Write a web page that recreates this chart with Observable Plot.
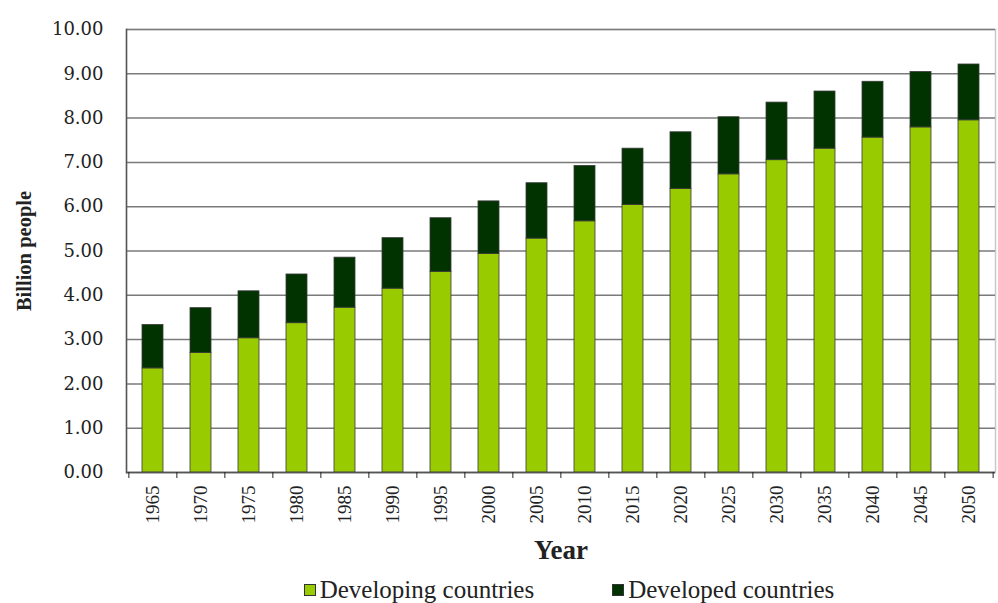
<!DOCTYPE html>
<html>
<head>
<meta charset="utf-8">
<script src="https://cdn.jsdelivr.net/npm/d3@7"></script>
<script src="https://cdn.jsdelivr.net/npm/@observablehq/plot@0.6"></script>
<style>
  html, body { margin: 0; padding: 0; background: #fff; }
  #chart { width: 998px; }
  .legend { display: flex; justify-content: center; align-items: center; gap: 78px;
            font-family: "Liberation Serif", "Times New Roman", serif; font-size: 25px; color: #222;
            height: 40px; padding-left: 140px; box-sizing: border-box; }
  .legend span.item { display: flex; align-items: center; gap: 4px; }
  .legend span.sw { width: 10px; height: 10px; border: 1px solid #333; display: inline-block; }
</style>
</head>
<body>
<div id="chart"></div>
<script>
const years = ["1965","1970","1975","1980","1985","1990","1995","2000","2005","2010","2015","2020","2025","2030","2035","2040","2045","2050"];
const developing = [2.35,2.70,3.03,3.37,3.72,4.15,4.53,4.93,5.28,5.67,6.04,6.40,6.73,7.05,7.31,7.56,7.79,7.95];
const developed  = [0.98,1.01,1.06,1.10,1.13,1.14,1.21,1.19,1.25,1.25,1.27,1.28,1.29,1.30,1.29,1.26,1.25,1.26];
const seriesNames = ["Developing countries", "Developed countries"];
const seriesColors = ["#99cc00", "#003300"];
const yTicks = [0,1,2,3,4,5,6,7,8,9,10];

const data = [];
years.forEach((y, i) => {
  data.push({year: y, series: seriesNames[0], value: developing[i]});
  data.push({year: y, series: seriesNames[1], value: developed[i]});
});

const W = 998, H = 570, mL = 126, mR = 3, mT = 29, mB = 98;
const step = (W - mL - mR) / years.length;
const serif = "Liberation Serif, Times New Roman, serif";

const plot = Plot.plot({
  width: W, height: H,
  marginLeft: mL, marginRight: mR, marginTop: mT, marginBottom: mB,
  style: {background: "#fff", color: "#222"},
  x: {domain: years, paddingInner: 0.57, paddingOuter: 0.285},
  y: {domain: [0, 10]},
  color: {domain: seriesNames, range: seriesColors},
  marks: [
    Plot.frame({stroke: "#c8c8c8", strokeWidth: 1.5}),
    Plot.gridY(yTicks, {stroke: "#7a7a7a", strokeOpacity: 1, strokeWidth: 1.5}),
    Plot.barY(data, {x: "year", y: "value", fill: "series", stroke: "#3a3a3a", strokeWidth: 0.8}),
    Plot.frame({anchor: "left", stroke: "#555", strokeWidth: 1.5}),
    Plot.ruleY([0], {stroke: "#555", strokeWidth: 1.5}),
    Plot.axisY(yTicks, {
      tickSize: 6, tickPadding: 17, tickFormat: d3.format(".2f"),
      fontFamily: "DejaVu Serif, serif", fontSize: 18, stroke: null,
      label: "Billion people", labelAnchor: "center", labelOffset: 110,
      labelArrow: "none"
    }),
    Plot.axisX({
      tickSize: 0, tickPadding: 13, tickRotate: -90,
      fontFamily: serif, fontSize: 19,
      label: "Year", labelAnchor: "center", labelOffset: 86, labelArrow: "none"
    }),
    Plot.axisX({tickSize: 6, tickFormat: () => "", label: null, dx: -step / 2}),
    Plot.axisX([years[years.length - 1]], {tickSize: 6, tickFormat: () => "", label: null, dx: step / 2})
  ]
});

// style axis labels
plot.querySelectorAll("g[aria-label='y-axis label'] text, g[aria-label='x-axis label'] text").forEach(t => {
  t.setAttribute("font-weight", "bold");
  t.setAttribute("font-family", serif);
});
plot.querySelectorAll("g[aria-label='y-axis label'] text").forEach(t => t.setAttribute("font-size", 20.5));
plot.querySelectorAll("g[aria-label='x-axis label'] text").forEach(t => t.setAttribute("font-size", 27));

const chart = document.getElementById("chart");
chart.appendChild(plot);

const legend = document.createElement("div");
legend.className = "legend";
seriesNames.forEach((name, i) => {
  const item = document.createElement("span");
  item.className = "item";
  const sw = document.createElement("span");
  sw.className = "sw";
  sw.style.background = seriesColors[i];
  const label = document.createElement("span");
  label.textContent = name;
  item.appendChild(sw);
  item.appendChild(label);
  legend.appendChild(item);
});
chart.appendChild(legend);
</script>
</body>
</html>
